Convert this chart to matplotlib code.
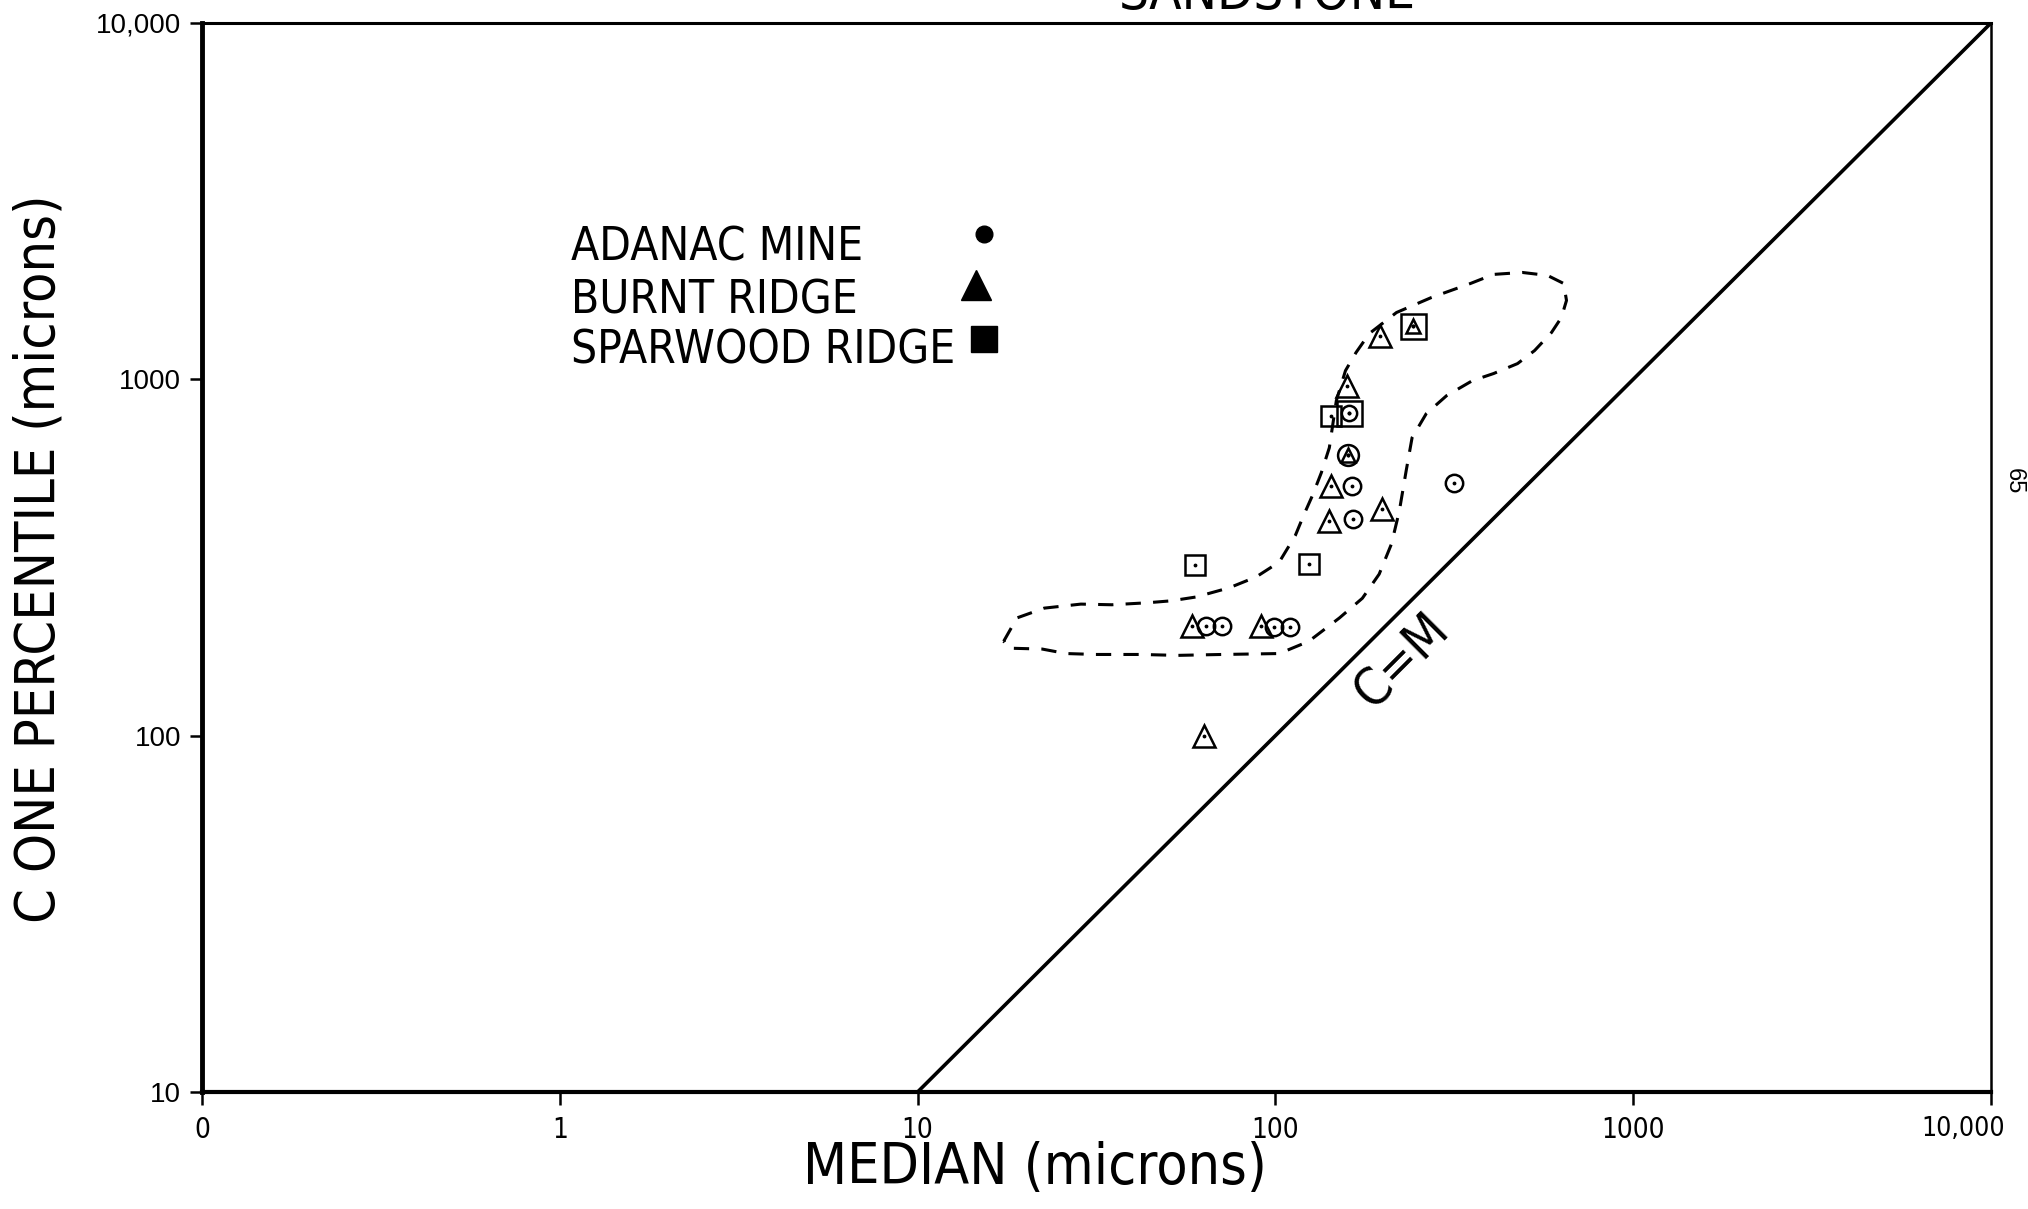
import matplotlib
matplotlib.use('Agg')
import matplotlib.pyplot as plt
from matplotlib.ticker import NullLocator

narrow = ['DejaVu Sans']
plain = ['Liberation Sans', 'DejaVu Sans']
cond = dict(family=narrow, fontstretch='condensed')

# sample points (median, C one percentile), microns
adanac_x = [64.1, 70.8, 98.8, 110, 164, 165, 315, 161, 160]
adanac_y = [203, 203, 202, 202, 502, 405, 511, 802, 614]
burnt_x = [58.6, 91.1, 143, 141, 199, 159, 196, 242, 63.2, 160]
burnt_y = [203, 203, 502, 401, 432, 960, 1327, 1416, 100, 614]
sparwood_x = [59.6, 124, 143, 161, 242]
sparwood_y = [301, 304, 791, 802, 1416]

# hand drawn sandstone field
envelope_x = [17.4, 18.95, 22.6, 28.6, 34.9, 43.8, 51.1, 60.0, 74.3, 88.4,
              102.5, 113.6, 120.4, 126.8, 134.4, 141.5, 148, 157, 168, 183,
              218, 273, 351, 407, 490, 576, 639, 651, 630, 591,
              530, 475, 407, 355, 301, 264, 241, 232, 222, 211,
              195, 175, 151, 124, 102.5, 71.0, 53.1, 42.1, 31.5, 26.0,
              22.3, 18.0, 17.4]
envelope_y = [184, 214, 228, 234, 233, 236, 239, 245, 260, 279,
              307, 364, 419, 471, 547, 643, 871, 1058, 1189, 1344,
              1540, 1697, 1858, 1970, 1995, 1957, 1858, 1665, 1491, 1353,
              1204, 1107, 1038, 991, 900, 801, 686, 554, 427, 345,
              284, 243, 214, 184, 170, 169, 168, 169, 169, 170,
              175, 176, 184]

cm_line = [10, 10000]

x_ticks = [0.1, 1, 10, 100, 1000, 10000]
x_labels = ['0', '1', '10', '100', '1000', '']
y_ticks = [10, 100, 1000, 10000]
y_labels = ['10', '100', '1000', '10,000']


def same(x, y, xs, ys):
    return any(abs(x - a) / a < 0.02 and abs(y - b) / b < 0.02 for a, b in zip(xs, ys))


fig = plt.figure(figsize=(20.28, 12.09), dpi=100)
ax = fig.add_axes([202 / 2028, 1 - 1092 / 1209, (1991 - 202) / 2028, (1092 - 23) / 1209])
ax.set_xscale('log')
ax.set_yscale('log')
ax.set_xlim(0.1, 10000)
ax.set_ylim(10, 10000)

ax.plot(cm_line, cm_line, color='k', lw=2.6, solid_capstyle='butt')
ax.plot(envelope_x, envelope_y, color='k', lw=2.2, linestyle=(0, (5, 4)))

mk = dict(color='none', mfc='none', mec='k', mew=1.8, linestyle='none')
for x, y in zip(sparwood_x, sparwood_y):
    big = same(x, y, adanac_x, adanac_y) or same(x, y, burnt_x, burnt_y)
    ax.plot(x, y, marker='s', ms=18 if big else 15, **mk)
for x, y in zip(adanac_x, adanac_y):
    if same(x, y, sparwood_x, sparwood_y):
        s = 11
    elif same(x, y, burnt_x, burnt_y):
        s = 15
    else:
        s = 12.5
    ax.plot(x, y, marker='o', ms=s, **mk)
for x, y in zip(burnt_x, burnt_y):
    inner = same(x, y, sparwood_x, sparwood_y) or same(x, y, adanac_x, adanac_y)
    ax.plot(x, y, marker='^', ms=10 if inner else 16, **mk)
ax.plot(adanac_x + burnt_x + sparwood_x, adanac_y + burnt_y + sparwood_y,
        'k.', ms=3.5, linestyle='none')

ax.set_xticks(x_ticks)
ax.set_xticklabels(x_labels, fontsize=20, **cond)
ax.set_yticks(y_ticks)
ax.set_yticklabels(y_labels, family=plain, fontsize=20)
ax.xaxis.set_minor_locator(NullLocator())
ax.yaxis.set_minor_locator(NullLocator())
ax.tick_params(axis='both', direction='out', length=9, width=1.8, color='k')
ax.tick_params(axis='x', pad=8)
ax.tick_params(axis='y', pad=6)
# last x label sits a little left of its tick in the original
ax.annotate('10,000', xy=(10000, 10), xytext=(-20, -17), textcoords='offset points',
            fontsize=19, ha='center', va='top', annotation_clip=False, **cond)

for side, w in [('left', 3.5), ('bottom', 3.0), ('top', 2.2), ('right', 1.8)]:
    ax.spines[side].set_linewidth(w)
    ax.spines[side].set_color('k')

fig.text(1035 / 2028, 1 - 1168 / 1209, 'MEDIAN (microns)', fontsize=41,
         ha='center', va='center', **cond)
fig.text(40 / 2028, 1 - 559 / 1209, 'C ONE PERCENTILE (microns)', fontsize=40,
         rotation=90, ha='center', va='center', **cond)

# legend drawn by hand as in the original
leg_names = ['ADANAC MINE', 'BURNT RIDGE', 'SPARWOOD RIDGE']
leg_base = [0.7779, 0.7282, 0.6813]
for name, yb in zip(leg_names, leg_base):
    ax.text(0.2064, yb, name, transform=ax.transAxes, fontsize=33,
            ha='left', va='baseline', **cond)
ax.plot(0.437, 0.803, 'o', ms=12, color='k', transform=ax.transAxes)
ax.plot(0.4326, 0.7545, '^', ms=22, color='k', transform=ax.transAxes)
ax.plot(0.437, 0.7048, 's', ms=19, color='k', transform=ax.transAxes)

ax.text(0.671, 0.403, 'C=M', transform=ax.transAxes, fontsize=37,
        rotation=45, ha='center', va='center', rotation_mode='anchor', **cond)

fig.text(0.625, 0.9926, 'SANDSTONE', fontsize=38, ha='center', va='baseline', **cond)
fig.text(2014 / 2028, 1 - 481 / 1209, '65', family=plain, fontsize=17, rotation=-90,
         ha='center', va='center')

fig.savefig('out.png', dpi=100)
